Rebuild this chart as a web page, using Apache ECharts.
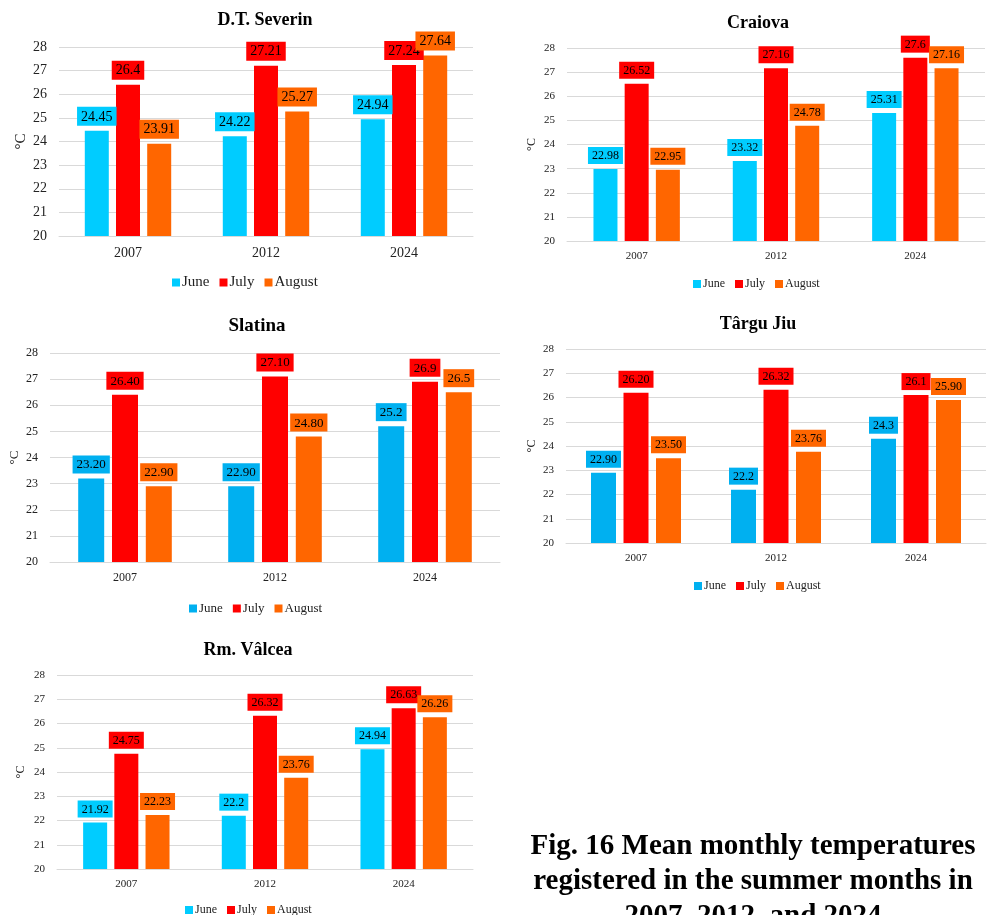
<!DOCTYPE html>
<html>
<head>
<meta charset="utf-8">
<script src="https://cdn.jsdelivr.net/npm/echarts@6/dist/echarts.min.js"></script>
<style>html,body{margin:0;padding:0;background:#fff}#c{width:987px;height:915px}</style>
</head>
<body>
<div id="c"></div>
<script>
// ---- data (label text as printed on the chart) ----
var years = ['2007', '2012', '2024'];
var months = ['June', 'July', 'August'];

var severinJune = ['24.45', '24.22', '24.94'];
var severinJuly = ['26.4', '27.21', '27.24'];
var severinAug  = ['23.91', '25.27', '27.64'];

var craiovaJune = ['22.98', '23.32', '25.31'];
var craiovaJuly = ['26.52', '27.16', '27.6'];
var craiovaAug  = ['22.95', '24.78', '27.16'];

var slatinaJune = ['23.20', '22.90', '25.2'];
var slatinaJuly = ['26.40', '27.10', '26.9'];
var slatinaAug  = ['22.90', '24.80', '26.5'];

var targuJune = ['22.90', '22.2', '24.3'];
var targuJuly = ['26.20', '26.32', '26.1'];
var targuAug  = ['23.50', '23.76', '25.90'];

var valceaJune = ['21.92', '22.2', '24.94'];
var valceaJuly = ['24.75', '26.32', '26.63'];
var valceaAug  = ['22.23', '23.76', '26.26'];

var yTicks = [20, 21, 22, 23, 24, 25, 26, 27, 28];
var captionLines = ['Fig. 16 Mean monthly temperatures', 'registered in the summer months in', '2007, 2012, and 2024'];

// ---- styles ----
var FONT = '"Liberation Serif", "Times New Roman", serif';
var C_JUNE_A = '#00ccff', C_JUNE_B = '#00b0f0', C_JULY = '#ff0000', C_AUG = '#ff6600';

var panels = [
  {title: 'D.T. Severin', data: [severinJune, severinJuly, severinAug], june: C_JUNE_A,
   grid: {left: 59, top: 47, width: 414, height: 189}, tx: 260, ty: 6, lx: 167, ly: 270,
   fs: 14, lfs: 14, tfs: 18, bw: 24, ng: 30},
  {title: 'Craiova', data: [craiovaJune, craiovaJuly, craiovaAug], june: C_JUNE_A,
   grid: {left: 567, top: 48, width: 418, height: 193}, tx: 753, ty: 9, lx: 688, ly: 273,
   fs: 11, lfs: 12, tfs: 18, bw: 24, ng: 29},
  {title: 'Slatina', data: [slatinaJune, slatinaJuly, slatinaAug], june: C_JUNE_B,
   grid: {left: 50, top: 353, width: 450, height: 209}, tx: 252, ty: 312, lx: 184, ly: 597,
   fs: 12, lfs: 13, tfs: 19, bw: 26, ng: 29},
  {title: 'Târgu Jiu', data: [targuJune, targuJuly, targuAug], june: C_JUNE_B,
   grid: {left: 566, top: 349, width: 420, height: 194}, tx: 753, ty: 310, lx: 689, ly: 575,
   fs: 11, lfs: 12, tfs: 18, bw: 25, ng: 28},
  {title: 'Rm. Vâlcea', data: [valceaJune, valceaJuly, valceaAug], june: C_JUNE_A,
   grid: {left: 57, top: 675, width: 416, height: 194}, tx: 243, ty: 636, lx: 180, ly: 899,
   fs: 11, lfs: 12, tfs: 18, bw: 24, ng: 30}
];

var option = {
  backgroundColor: '#fff',
  animation: false,
  title: [], grid: [], xAxis: [], yAxis: [], legend: [], series: [],
  graphic: []
};

panels.forEach(function (p, i) {
  var colors = [p.june, C_JULY, C_AUG];
  option.title.push({
    text: p.title, left: p.tx, top: p.ty, textAlign: 'center',
    textStyle: {fontFamily: FONT, fontWeight: 'bold', fontSize: p.tfs, color: '#000'}
  });
  option.grid.push(Object.assign({containLabel: false}, p.grid));
  option.xAxis.push({
    type: 'category', gridIndex: i, data: years,
    axisLine: {lineStyle: {color: '#d9d9d9'}}, axisTick: {show: false},
    axisLabel: {fontFamily: FONT, fontSize: p.fs, color: '#222', margin: 10}
  });
  option.yAxis.push({
    type: 'value', gridIndex: i, min: yTicks[0], max: yTicks[yTicks.length - 1], interval: 1,
    name: '°C', nameLocation: 'middle', nameRotate: 90, nameGap: p.ng,
    nameTextStyle: {fontFamily: FONT, fontSize: p.fs + 1, color: '#222'},
    axisLine: {show: false}, axisTick: {show: false},
    axisLabel: {fontFamily: FONT, fontSize: p.fs, color: '#222', margin: 12},
    splitLine: {lineStyle: {color: '#d9d9d9', width: 1}}
  });
  option.legend.push({
    left: p.lx, top: p.ly,
    orient: 'horizontal', icon: 'rect', itemWidth: 8, itemHeight: 8, itemGap: 10,
    selectedMode: false,
    data: months.map(function (m, k) { return {name: m, itemStyle: {color: colors[k]}}; }),
    textStyle: {fontFamily: FONT, fontSize: p.fs + 1, color: '#222', padding: [0, 0, 0, -3]}
  });
  p.data.forEach(function (arr, k) {
    option.series.push({
      type: 'bar', name: months[k], xAxisIndex: i, yAxisIndex: i,
      barWidth: p.bw, barGap: '30%',
      itemStyle: {color: colors[k]},
      data: arr.map(Number),
      label: {
        show: true, position: 'top', distance: 5,
        formatter: (function (a) { return function (pp) { return a[pp.dataIndex]; }; })(arr),
        fontFamily: FONT, fontSize: p.lfs, color: '#000',
        backgroundColor: colors[k], padding: [3, 4, 2, 4]
      }
    });
  });
});

// caption (three bold lines)
captionLines.forEach(function (t, j) {
  option.graphic.push({
    type: 'text', x: 753, y: 861 + j * 35,
    style: {text: t, x: 0, y: 0, textAlign: 'center', textVerticalAlign: 'bottom',
            font: 'bold 29px ' + FONT, fill: '#000'}
  });
});

var chart = echarts.init(document.getElementById('c'), null, {renderer: 'canvas'});
chart.setOption(option);
</script>
</body>
</html>
